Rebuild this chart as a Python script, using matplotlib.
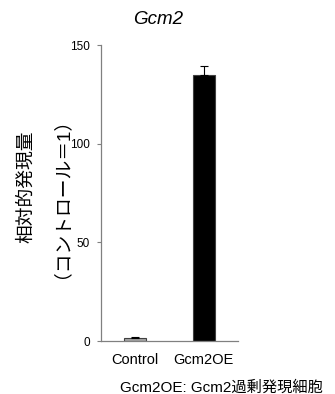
import matplotlib.pyplot as plt

plt.rcParams['font.family'] = ['Liberation Sans', 'Noto Sans CJK JP', 'DejaVu Sans']

groups = ['Control', 'Gcm2OE']
expression = [1.3, 134.6]
errors = [0.6, 5.0]
bar_colors = ['#a6a6a6', '#000000']
yticks = [0, 50, 100, 150]

fig = plt.figure(figsize=(3.35, 3.94), dpi=100)
ax = fig.add_axes([101/335, 1 - 341/394, 137/335, 296/394])

ax.bar(range(len(groups)), expression, width=0.32, color=bar_colors,
       edgecolor='#404040', linewidth=0.8,
       yerr=[[0, 0], errors], error_kw=dict(ecolor='#000000', elinewidth=0.8, capsize=3, capthick=0.8))

ax.set_xlim(-0.5, 1.5)
ax.set_ylim(0, 150)
ax.set_yticks(yticks)
ax.set_xticks(range(len(groups)))
ax.set_xticklabels(groups, fontsize=10.5)
ax.tick_params(axis='y', labelsize=8.5, length=3, width=0.8, color='#808080', pad=5)
ax.tick_params(axis='x', length=0, pad=9)

for side in ['top', 'right']:
    ax.spines[side].set_visible(False)
for side in ['left', 'bottom']:
    ax.spines[side].set_color('#808080')
    ax.spines[side].set_linewidth(0.9)

fig.text(158/335, 1 - 20/394, 'Gcm2', fontsize=13.5, style='italic', ha='center', va='center')
fig.text(27/335, 1 - 187/394, '相対的発現量', fontsize=13.5, rotation=90, ha='center', va='center')
fig.text(52/335, 1 - 188/394, '（コントロール＝1）', fontsize=13.5, rotation=90, ha='center', va='center')
fig.text(323/335, 1 - 388/394, 'Gcm2OE: Gcm2過剰発現細胞', fontsize=11, ha='right', va='center')

fig.savefig('out.png', dpi=100)
